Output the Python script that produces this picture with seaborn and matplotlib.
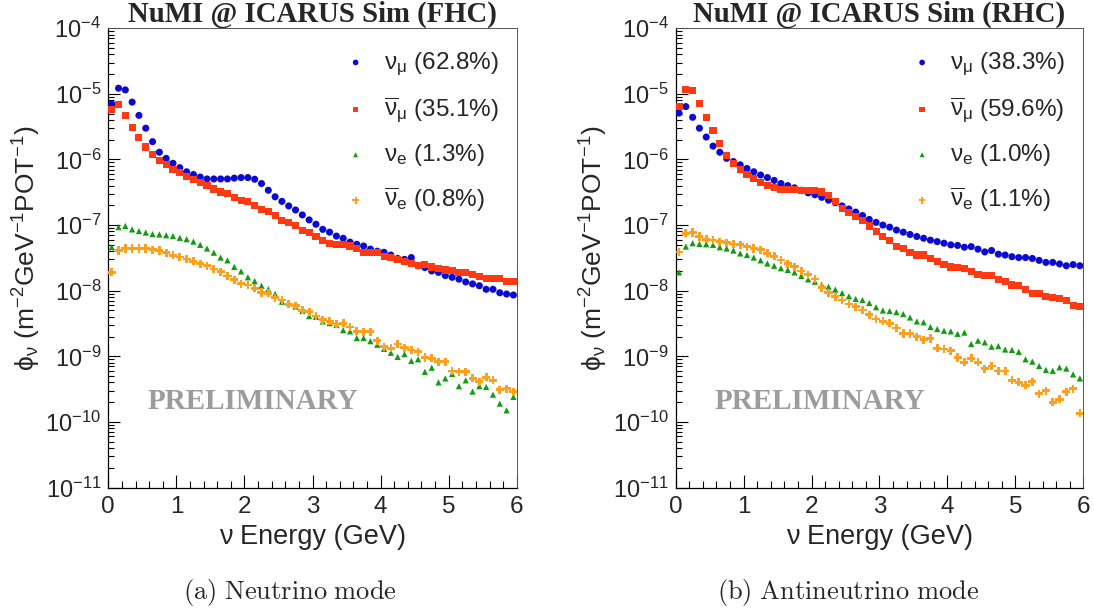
import numpy as np
import pandas as pd
import seaborn as sns
import matplotlib
matplotlib.use("Agg")
import matplotlib.pyplot as plt
from matplotlib.ticker import LogLocator, MultipleLocator, NullFormatter, LogFormatterSciNotation

# ---------------- data ----------------
energy = [0.05, 0.15, 0.25, 0.35, 0.45, 0.55, 0.65, 0.75, 0.85, 0.95,
          1.05, 1.15, 1.25, 1.35, 1.45, 1.55, 1.65, 1.75, 1.85, 1.95,
          2.05, 2.15, 2.25, 2.35, 2.45, 2.55, 2.65, 2.75, 2.85, 2.95,
          3.05, 3.15, 3.25, 3.35, 3.45, 3.55, 3.65, 3.75, 3.85, 3.95,
          4.05, 4.15, 4.25, 4.35, 4.45, 4.55, 4.65, 4.75, 4.85, 4.95,
          5.05, 5.15, 5.25, 5.35, 5.45, 5.55, 5.65, 5.75, 5.85, 5.95]

flavors = ["numu", "numubar", "nue", "nuebar"]

# FHC (neutrino mode)
fhc_numu = [7.0e-6, 1.22e-5, 1.15e-5, 7.5e-6, 4.7e-6, 3.0e-6, 1.87e-6, 1.29e-6, 1.04e-6, 8.75e-7,
            7.5e-7, 6.5e-7, 5.9e-7, 5.4e-7, 5.05e-7, 5.05e-7, 5.05e-7, 5.05e-7, 5.2e-7, 5.3e-7,
            5.3e-7, 5.0e-7, 4.3e-7, 3.4e-7, 2.7e-7, 2.3e-7, 1.96e-7, 1.7e-7, 1.43e-7, 1.2e-7,
            1.03e-7, 8.6e-8, 7.8e-8, 6.8e-8, 6.3e-8, 5.5e-8, 5.1e-8, 4.8e-8, 4.3e-8, 4.0e-8,
            3.85e-8, 3.5e-8, 3.1e-8, 3.0e-8, 3.2e-8, 2.4e-8, 2.25e-8, 2.0e-8, 1.9e-8, 1.7e-8,
            1.6e-8, 1.5e-8, 1.36e-8, 1.27e-8, 1.19e-8, 1.05e-8, 1.05e-8, 9.3e-9, 8.9e-9, 8.6e-9]
fhc_numubar = [5.8e-6, 7.0e-6, 4.7e-6, 3.1e-6, 2.15e-6, 1.55e-6, 1.21e-6, 9.8e-7, 8.3e-7, 7.1e-7,
               6.3e-7, 5.5e-7, 4.9e-7, 4.4e-7, 4.05e-7, 3.55e-7, 3.2e-7, 3.0e-7, 2.65e-7, 2.4e-7,
               2.3e-7, 1.96e-7, 1.74e-7, 1.6e-7, 1.38e-7, 1.16e-7, 1.1e-7, 9.8e-8, 8.4e-8, 7.6e-8,
               6.8e-8, 5.9e-8, 5.3e-8, 5.1e-8, 5.0e-8, 4.8e-8, 4.4e-8, 3.85e-8, 3.85e-8, 3.85e-8,
               3.3e-8, 3.2e-8, 3.0e-8, 2.8e-8, 2.6e-8, 2.4e-8, 2.5e-8, 2.3e-8, 2.2e-8, 2.07e-8,
               2.0e-8, 1.9e-8, 1.88e-8, 1.74e-8, 1.64e-8, 1.55e-8, 1.55e-8, 1.55e-8, 1.39e-8, 1.39e-8]
fhc_nue = [4.6e-8, 9.3e-8, 9.7e-8, 8.6e-8, 8.1e-8, 7.7e-8, 7.3e-8, 7.2e-8, 7.0e-8, 6.8e-8,
           6.4e-8, 6.1e-8, 5.6e-8, 5.0e-8, 4.4e-8, 3.8e-8, 3.2e-8, 2.9e-8, 2.3e-8, 1.97e-8,
           1.6e-8, 1.4e-8, 1.19e-8, 1.05e-8, 8.9e-9, 6.8e-9, 6.5e-9, 5.7e-9, 4.9e-9, 4.1e-9,
           4.0e-9, 3.4e-9, 3.2e-9, 3.0e-9, 2.5e-9, 2.4e-9, 1.9e-9, 1.9e-9, 1.7e-9, 1.5e-9,
           1.3e-9, 1.13e-9, 9.8e-10, 1.08e-9, 8.5e-10, 9.0e-10, 5.8e-10, 6.7e-10, 4.0e-10, 4.6e-10,
           5.4e-10, 3.5e-10, 4.3e-10, 2.9e-10, 3.5e-10, 3.4e-10, 2.6e-10, 1.9e-10, 1.5e-10, 2.4e-10]
fhc_nuebar = [1.9e-8, 4.1e-8, 4.4e-8, 4.4e-8, 4.4e-8, 4.4e-8, 4.2e-8, 4.1e-8, 3.8e-8, 3.45e-8,
              3.25e-8, 3.05e-8, 2.8e-8, 2.57e-8, 2.4e-8, 2.15e-8, 1.94e-8, 1.67e-8, 1.47e-8, 1.28e-8,
              1.22e-8, 1.09e-8, 9.4e-9, 9.1e-9, 7.8e-9, 7.2e-9, 6.2e-9, 5.9e-9, 5.0e-9, 4.8e-9,
              4.1e-9, 3.6e-9, 3.4e-9, 3.1e-9, 3.2e-9, 2.8e-9, 2.4e-9, 2.37e-9, 2.37e-9, 1.73e-9,
              1.4e-9, 1.32e-9, 1.54e-9, 1.35e-9, 1.25e-9, 1.17e-9, 9.6e-10, 9.3e-10, 8.3e-10, 8.3e-10,
              6.0e-10, 5.8e-10, 5.8e-10, 4.6e-10, 4.1e-10, 4.8e-10, 4.3e-10, 3.1e-10, 3.2e-10, 2.9e-10]

# RHC (antineutrino mode)
rhc_numu = [5.1e-6, 6.4e-6, 4.4e-6, 3.0e-6, 2.2e-6, 1.6e-6, 1.29e-6, 1.04e-6, 9.3e-7, 8.3e-7,
            7.3e-7, 6.5e-7, 5.8e-7, 5.3e-7, 4.8e-7, 4.3e-7, 4.0e-7, 3.7e-7, 3.4e-7, 3.1e-7,
            2.9e-7, 2.65e-7, 2.4e-7, 2.2e-7, 1.96e-7, 1.76e-7, 1.58e-7, 1.4e-7, 1.22e-7, 1.1e-7,
            1.0e-7, 9.3e-8, 8.4e-8, 7.8e-8, 7.2e-8, 6.7e-8, 6.3e-8, 5.9e-8, 5.6e-8, 5.3e-8,
            5.0e-8, 4.9e-8, 4.6e-8, 4.7e-8, 4.3e-8, 3.9e-8, 4.1e-8, 3.6e-8, 3.5e-8, 3.3e-8,
            3.2e-8, 3.2e-8, 3.1e-8, 2.9e-8, 2.7e-8, 2.7e-8, 2.56e-8, 2.4e-8, 2.5e-8, 2.4e-8]
rhc_numubar = [6.4e-6, 1.17e-5, 1.12e-5, 7.2e-6, 4.4e-6, 2.8e-6, 1.73e-6, 1.15e-6, 8.75e-7, 7.1e-7,
               6.0e-7, 5.2e-7, 4.5e-7, 4.0e-7, 3.7e-7, 3.5e-7, 3.5e-7, 3.5e-7, 3.4e-7, 3.4e-7,
               3.35e-7, 3.2e-7, 2.8e-7, 2.3e-7, 1.8e-7, 1.57e-7, 1.35e-7, 1.16e-7, 9.7e-8, 7.9e-8,
               6.7e-8, 5.8e-8, 4.7e-8, 4.4e-8, 3.85e-8, 3.5e-8, 3.5e-8, 3.1e-8, 2.8e-8, 2.5e-8,
               2.3e-8, 2.27e-8, 2.2e-8, 1.95e-8, 1.74e-8, 1.7e-8, 1.68e-8, 1.46e-8, 1.37e-8, 1.22e-8,
               1.19e-8, 1.03e-8, 9.1e-9, 9.1e-9, 8.1e-9, 7.8e-9, 7.5e-9, 7.2e-9, 6.0e-9, 5.7e-9]
rhc_nue = [1.9e-8, 4.7e-8, 5.3e-8, 5.15e-8, 5.1e-8, 5.0e-8, 4.6e-8, 4.4e-8, 4.1e-8, 3.7e-8,
           3.5e-8, 3.2e-8, 2.9e-8, 2.6e-8, 2.4e-8, 2.2e-8, 2.07e-8, 1.9e-8, 1.68e-8, 1.49e-8,
           1.37e-8, 1.24e-8, 1.15e-8, 1.04e-8, 9.2e-9, 8.2e-9, 7.5e-9, 7.2e-9, 6.5e-9, 5.6e-9,
           5.0e-9, 4.9e-9, 4.7e-9, 4.4e-9, 3.9e-9, 3.4e-9, 3.3e-9, 2.8e-9, 2.6e-9, 2.45e-9,
           2.4e-9, 2.2e-9, 2.3e-9, 1.54e-9, 1.73e-9, 1.63e-9, 1.4e-9, 1.43e-9, 1.27e-9, 1.25e-9,
           1.17e-9, 9.0e-10, 8.3e-10, 7.1e-10, 6.2e-10, 6.0e-10, 6.8e-10, 6.5e-10, 5.3e-10, 4.6e-10]
rhc_nuebar = [3.9e-8, 7.5e-8, 7.7e-8, 6.7e-8, 6.1e-8, 5.9e-8, 5.6e-8, 5.4e-8, 5.15e-8, 5.0e-8,
              4.7e-8, 4.4e-8, 4.2e-8, 3.7e-8, 3.35e-8, 2.95e-8, 2.57e-8, 2.32e-8, 2.0e-8, 1.75e-8,
              1.5e-8, 1.12e-8, 9.3e-9, 8.1e-9, 7.2e-9, 6.3e-9, 5.7e-9, 5.1e-9, 4.3e-9, 3.7e-9,
              3.4e-9, 3.2e-9, 2.7e-9, 2.23e-9, 2.23e-9, 2.0e-9, 1.8e-9, 1.87e-9, 1.32e-9, 1.29e-9,
              1.22e-9, 9.6e-10, 8.1e-10, 9.3e-10, 8.1e-10, 6.5e-10, 7.1e-10, 6.0e-10, 6.0e-10, 4.3e-10,
              4.0e-10, 3.6e-10, 4.1e-10, 2.7e-10, 3.0e-10, 2.0e-10, 2.2e-10, 2.9e-10, 3.2e-10, 1.35e-10]

fhc_fractions = ["62.8", "35.1", "1.3", "0.8"]
rhc_fractions = ["38.3", "59.6", "1.0", "1.1"]

panel_titles = ["NuMI @ ICARUS Sim (FHC)", "NuMI @ ICARUS Sim (RHC)"]
captions = [r"$\mathrm{(a)\ Neutrino\ mode}$", r"$\mathrm{(b)\ Antineutrino\ mode}$"]

flavor_symbols = [r"$\mathrm{\nu}_{\mathrm{\mu}}$",
                  r"$\overline{\mathrm{\nu}}_{\mathrm{\mu}}$",
                  r"$\mathrm{\nu}_{\mathrm{e}}$",
                  r"$\overline{\mathrm{\nu}}_{\mathrm{e}}$"]

# ---------------- style ----------------
colors = {"numu": "#0a0ad2", "numubar": "#ff3a12", "nue": "#119c11", "nuebar": "#ffa01c"}
markers = {"numu": "o", "numubar": "s", "nue": "^", "nuebar": "P"}
msizes = {"numu": 26, "numubar": 26, "nue": 20, "nuebar": 34}

sns.set_style("white")
plt.rcParams["font.family"] = ["Liberation Sans", "DejaVu Sans"]
plt.rcParams["mathtext.fontset"] = "custom"
plt.rcParams["mathtext.rm"] = "Liberation Sans"
plt.rcParams["mathtext.it"] = "Liberation Sans:italic"
plt.rcParams["mathtext.bf"] = "Liberation Sans:bold"
plt.rcParams["mathtext.sf"] = "Liberation Sans"
plt.rcParams["axes.unicode_minus"] = True

fig = plt.figure(figsize=(10.94, 6.15), dpi=100)
fig.patch.set_facecolor("white")
ax_l = fig.add_axes([0.0990, 0.2073, 0.3734, 0.7467])
ax_r = fig.add_axes([0.6176, 0.2073, 0.3726, 0.7467])

panels = [
    (ax_l, {"numu": fhc_numu, "numubar": fhc_numubar, "nue": fhc_nue, "nuebar": fhc_nuebar}, fhc_fractions),
    (ax_r, {"numu": rhc_numu, "numubar": rhc_numubar, "nue": rhc_nue, "nuebar": rhc_nuebar}, rhc_fractions),
]

for i, (ax, series, fracs) in enumerate(panels):
    for j, fl in enumerate(flavors):
        df = pd.DataFrame({"energy": energy, "flux": series[fl]})
        sns.scatterplot(data=df, x="energy", y="flux", ax=ax, color=colors[fl],
                        marker=markers[fl], s=msizes[fl], linewidth=0, edgecolor="none",
                        label=f"{flavor_symbols[j]} ({fracs[j]}%)", zorder=3)
    ax.set_yscale("log")
    ax.set_xlim(0, 6)
    ax.set_ylim(1e-11, 1e-4)
    ax.xaxis.set_major_locator(MultipleLocator(1))
    ax.xaxis.set_minor_locator(MultipleLocator(0.2))
    ax.yaxis.set_major_locator(LogLocator(base=10, numticks=20))
    ax.yaxis.set_minor_locator(LogLocator(base=10, subs=np.arange(2, 10), numticks=20))
    ax.yaxis.set_major_formatter(LogFormatterSciNotation())
    ax.yaxis.set_minor_formatter(NullFormatter())
    ax.tick_params(which="both", direction="in", bottom=True, left=True, top=False, right=False,
                   color="black", width=0.8)
    ax.tick_params(axis="x", which="major", length=9.4, pad=6, labelsize=17.5)
    ax.tick_params(axis="x", which="minor", length=5)
    ax.tick_params(axis="y", which="major", length=8.6, pad=5, labelsize=17)
    ax.tick_params(axis="y", which="minor", length=4.3)
    for name, sp in ax.spines.items():
        sp.set_visible(True)
        sp.set_color("black" if name in ("left", "bottom") else "#555555")
        sp.set_linewidth(0.9 if name in ("left", "bottom") else 0.7)

    ax.set_xlabel("ν Energy (GeV)", fontsize=19.5)
    ax.xaxis.set_label_coords(0.5, -0.08)
    ax.xaxis.label.set_va("top")
    ax.set_ylabel("ϕ$_{\\mathrm{\\nu}}$ (m$^{\\mathrm{-2}}$GeV$^{\\mathrm{-1}}$POT$^{\\mathrm{-1}}$)",
                  fontsize=19)
    ax.yaxis.set_label_coords(-0.16, 0.52)

    ax.set_title(panel_titles[i], fontfamily="Liberation Serif", fontweight="bold",
                 fontsize=20.7, pad=4.5)

    ax.text(0.355, 0.187, "PRELIMINARY", transform=ax.transAxes, ha="center", va="center",
            fontfamily="Liberation Serif", fontweight="bold", fontsize=21, color="#9c9c9c")

    ax.legend(loc="upper right", bbox_to_anchor=(0.955, 0.952), frameon=False, fontsize=17.5,
              handlelength=0.8, handletextpad=0.75, labelspacing=0.72, borderaxespad=0,
              borderpad=0, markerscale=0.8)

fig.text(290 / 1094, 1 - 592 / 615, captions[0], ha="center", va="center",
         fontsize=19, math_fontfamily="cm")
fig.text(848 / 1094, 1 - 592 / 615, captions[1], ha="center", va="center",
         fontsize=19, math_fontfamily="cm")

fig.savefig("out.png", dpi=100, facecolor="white")
